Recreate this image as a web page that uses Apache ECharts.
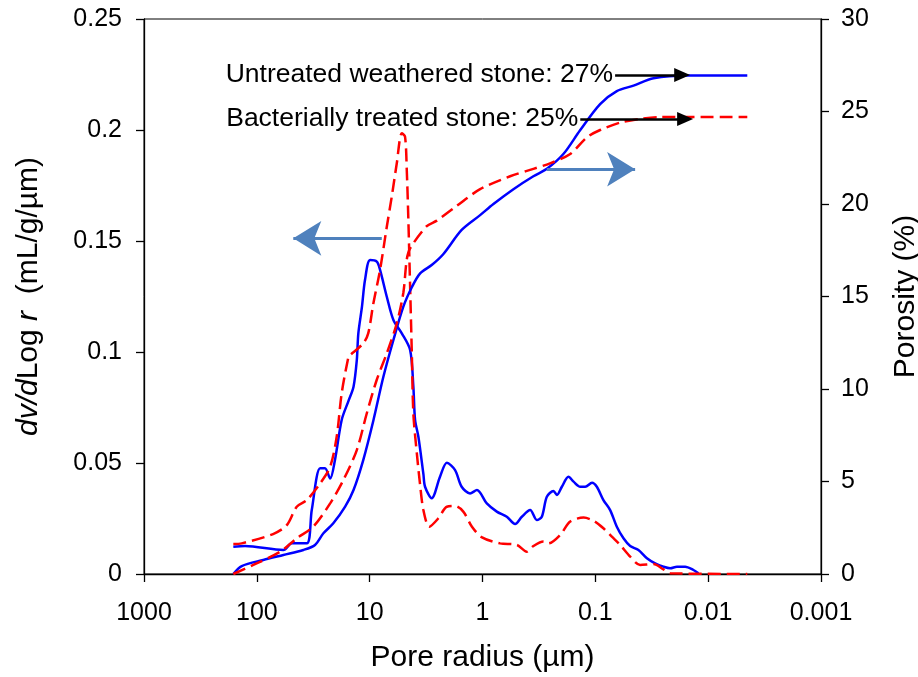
<!DOCTYPE html>
<html>
<head>
<meta charset="utf-8">
<script src="https://cdn.jsdelivr.net/npm/echarts@6/dist/echarts.min.js"></script>
<style>
  html, body { margin: 0; padding: 0; background: #fff; }
  #chart { width: 918px; height: 677px; }
</style>
</head>
<body>
<div id="chart"></div>
<script>
// pore radius (um) and dv/dlog r (mL/g/um), untreated weathered stone
var rPsdUntreated = [161.6, 127.2, 58.2, 49.0, 36.1, 32.6, 27.5, 24.9, 22.4, 20.3, 17.7, 15.4, 13.9, 13.0, 12.6, 11.7, 11.0, 9.92, 8.65, 8.09, 7.05, 6.16, 5.19, 4.38, 4.10, 3.96, 3.70, 3.34, 3.23, 2.82, 2.38, 2.07, 1.75, 1.53, 1.29, 1.12, 0.916, 0.747, 0.609, 0.514, 0.448, 0.378, 0.330, 0.298, 0.269, 0.235, 0.219, 0.198, 0.173, 0.156, 0.136, 0.123, 0.107, 0.0970, 0.0848, 0.0739, 0.0645, 0.0563, 0.0491, 0.0415, 0.0349, 0.0295, 0.0249, 0.0217, 0.0189, 0.0160, 0.0135, 0.0122];
var psdUntreated = [0.0123, 0.0126, 0.0108, 0.0138, 0.0138, 0.0288, 0.0476, 0.0476, 0.043, 0.0514, 0.0694, 0.078, 0.0844, 0.0964, 0.1084, 0.1204, 0.1324, 0.1414, 0.1407, 0.137, 0.1249, 0.1144, 0.1084, 0.1009, 0.0844, 0.0694, 0.0618, 0.045, 0.0393, 0.0341, 0.0438, 0.0501, 0.0468, 0.0393, 0.0363, 0.0378, 0.0318, 0.0281, 0.0258, 0.0225, 0.0258, 0.0288, 0.0243, 0.0258, 0.0348, 0.0374, 0.0356, 0.0393, 0.0438, 0.0416, 0.0393, 0.0393, 0.0411, 0.0393, 0.0333, 0.0288, 0.0213, 0.0161, 0.0126, 0.0108, 0.0071, 0.0048, 0.0033, 0.0026, 0.0033, 0.0033, 0.0018, 0.0003];

// bacterially treated stone
var rPsdTreated = [161.6, 136.1, 71.8, 54.3, 44.3, 36.1, 27.5, 22.4, 19.6, 17.7, 15.4, 15.0, 11.4, 10.3, 9.27, 8.09, 7.05, 6.37, 5.75, 5.19, 4.86, 4.69, 4.54, 4.38, 4.23, 4.10, 3.82, 3.57, 3.34, 2.96, 2.46, 2.07, 1.75, 1.48, 1.24, 1.01, 0.698, 0.496, 0.405, 0.354, 0.288, 0.260, 0.205, 0.167, 0.127, 0.104, 0.0848, 0.0714, 0.0603, 0.0491, 0.0401, 0.0305, 0.0249, 0.0217, 0.0045];
var psdTreated = [0.0135, 0.0138, 0.018, 0.022, 0.0303, 0.0333, 0.0408, 0.0483, 0.0618, 0.0814, 0.0979, 0.0985, 0.1039, 0.1084, 0.1219, 0.137, 0.1564, 0.170, 0.185, 0.1985, 0.197, 0.182, 0.1595, 0.1294, 0.0994, 0.0724, 0.0544, 0.040, 0.0288, 0.0213, 0.0251, 0.0303, 0.0306, 0.0281, 0.0213, 0.0165, 0.0138, 0.0131, 0.010, 0.0126, 0.0146, 0.0138, 0.0176, 0.0236, 0.0254, 0.024, 0.0206, 0.0168, 0.0131, 0.0078, 0.0041, 0.0045, 0.0021, 0.0003, 0];

// cumulative porosity (%)
var rPorUntreated = [161.6, 136.1, 87.6, 58.2, 38.7, 30.5, 25.7, 21.0, 16.5, 13.9, 11.4, 9.27, 7.56, 6.16, 5.03, 4.23, 3.57, 2.82, 2.22, 1.53, 1.05, 0.800, 0.532, 0.354, 0.269, 0.192, 0.136, 0.0907, 0.0645, 0.0459, 0.0305, 0.0154, 0.0045];
var porUntreated = [0, 0.43, 0.76, 1.03, 1.3, 1.57, 2.2, 2.74, 3.64, 4.54, 6.16, 8.3, 10.66, 12.65, 14.45, 15.5, 16.25, 16.7, 17.3, 18.6, 19.4, 20.0, 20.8, 21.5, 21.9, 22.7, 24.0, 25.4, 26.1, 26.4, 26.8, 26.95, 26.95];

var rPorTreated = [161.6, 107.4, 62.3, 44.3, 31.6, 22.4, 17.1, 13.0, 10.6, 8.65, 7.05, 5.75, 5.03, 4.69, 4.38, 3.12, 2.54, 1.69, 1.05, 0.569, 0.354, 0.252, 0.167, 0.119, 0.0907, 0.0603, 0.0401, 0.0266, 0.0045];
var porTreated = [0, 0.49, 1.2, 1.93, 2.56, 3.82, 5.08, 6.7, 8.69, 10.5, 11.93, 13.55, 15.2, 17.0, 17.6, 18.8, 19.1, 19.9, 20.8, 21.5, 21.9, 22.2, 22.7, 23.6, 24.0, 24.4, 24.6, 24.7, 24.7];

var xTickLabels = ['0.001', '0.01', '0.1', '1', '10', '100', '1000'];
var labelUntreated = 'Untreated weathered stone: 27%';
var labelTreated = 'Bacterially treated stone: 25%';

function zip(xs, ys) {
  return xs.map(function(x, i) { return [x, ys[i]]; });
}

var font = 'Liberation Sans, Arial, sans-serif';
var blue = '#0000ff';
var red = '#ff0000';
var steel = '#4f81bd';

var chart = echarts.init(document.getElementById('chart'), null, { renderer: 'canvas' });
chart.setOption({
  animation: false,
  textStyle: { fontFamily: font },
  grid: {
    left: 144, right: 97, top: 19, bottom: 103,
    outerBoundsMode: 'none', containLabel: false,
    show: true, borderColor: '#000', borderWidth: 1
  },
  xAxis: {
    type: 'log',
    logBase: 10,
    min: 0.001,
    max: 1000,
    inverse: true,
    name: 'Pore radius (\u00b5m)',
    nameLocation: 'middle',
    nameGap: 69,
    nameTextStyle: { fontSize: 30, color: '#000', fontFamily: font },
    axisLine: { onZero: false, lineStyle: { color: '#000', width: 1.3 } },
    axisTick: { inside: false, length: 8, lineStyle: { color: '#000', width: 1.3 } },
    axisLabel: {
      fontSize: 25, color: '#000', margin: 27, fontFamily: font,
      formatter: function(v) { return xTickLabels[Math.round(Math.log10(v)) + 3]; }
    },
    splitLine: { show: false },
    minorTick: { show: false }
  },
  yAxis: [{
    type: 'value',
    min: 0,
    max: 0.25,
    interval: 0.05,
    position: 'left',
    name: '{i|dv/d}Log{i| r}  (mL/g/\u00b5m)',
    nameLocation: 'middle',
    nameRotate: 90,
    nameGap: 100,
    nameTextStyle: {
      fontSize: 30, color: '#000', fontFamily: font,
      rich: { i: { fontSize: 30, fontStyle: 'italic', color: '#000', fontFamily: font } }
    },
    axisLine: { show: true, lineStyle: { color: '#000', width: 1.3 } },
    axisTick: { show: true, length: 8, lineStyle: { color: '#000', width: 1.3 } },
    axisLabel: { fontSize: 25, color: '#000', margin: 22, fontFamily: font },
    splitLine: { show: false }
  }, {
    type: 'value',
    min: 0,
    max: 30,
    interval: 5,
    position: 'right',
    name: 'Porosity (%)',
    nameLocation: 'middle',
    nameRotate: 90,
    nameGap: 70,
    nameTextStyle: { fontSize: 30, color: '#000', fontFamily: font },
    axisLine: { show: true, lineStyle: { color: '#000', width: 1.3 } },
    axisTick: { show: true, length: 8, lineStyle: { color: '#000', width: 1.3 } },
    axisLabel: { fontSize: 25, color: '#000', margin: 20, fontFamily: font },
    splitLine: { show: false }
  }],
  series: [{
    name: 'PSD untreated',
    type: 'line',
    yAxisIndex: 0,
    data: zip(rPsdUntreated, psdUntreated),
    showSymbol: false,
    smooth: 0.3,
    lineStyle: { color: blue, width: 2.5 },
    markLine: {
      silent: true,
      symbol: ['none', 'arrow'],
      symbolSize: [26, 28],
      lineStyle: { color: steel, width: 3, type: 'solid' },
      label: { show: false },
      data: [[{ coord: [7.81, 0.1512] }, { coord: [47.5, 0.1512] }]]
    }
  }, {
    name: 'PSD treated',
    type: 'line',
    yAxisIndex: 0,
    data: zip(rPsdTreated, psdTreated),
    showSymbol: false,
    smooth: 0.3,
    lineStyle: { color: red, width: 2.5, type: [13, 6] }
  }, {
    name: 'Porosity untreated',
    type: 'line',
    yAxisIndex: 1,
    data: zip(rPorUntreated, porUntreated),
    showSymbol: false,
    smooth: 0.3,
    lineStyle: { color: blue, width: 2.5 },
    markLine: {
      silent: true,
      symbol: ['none', 'triangle'],
      symbolSize: [14, 16],
      lineStyle: { color: '#000', width: 2.5, type: 'solid' },
      label: {
        show: true, position: 'start', distance: 2,
        fontSize: 26.5, color: '#000', fontFamily: font,
        formatter: function(p) { return p.name; }
      },
      data: [
        [{ name: labelUntreated, coord: [0.0668, 26.97] }, { coord: [0.0170, 26.97] }],
        [{ name: labelTreated, coord: [0.136, 24.6] }, { coord: [0.0160, 24.6] }]
      ]
    }
  }, {
    name: 'Porosity treated',
    type: 'line',
    yAxisIndex: 1,
    data: zip(rPorTreated, porTreated),
    showSymbol: false,
    smooth: 0.3,
    lineStyle: { color: red, width: 2.5, type: [13, 6] },
    markLine: {
      silent: true,
      symbol: ['none', 'arrow'],
      symbolSize: [26, 28],
      lineStyle: { color: steel, width: 3, type: 'solid' },
      label: { show: false },
      data: [[{ coord: [0.269, 21.88] }, { coord: [0.0444, 21.88] }]]
    }
  }]
});
window.addEventListener('resize', function() { chart.resize(); });
</script>
</body>
</html>
